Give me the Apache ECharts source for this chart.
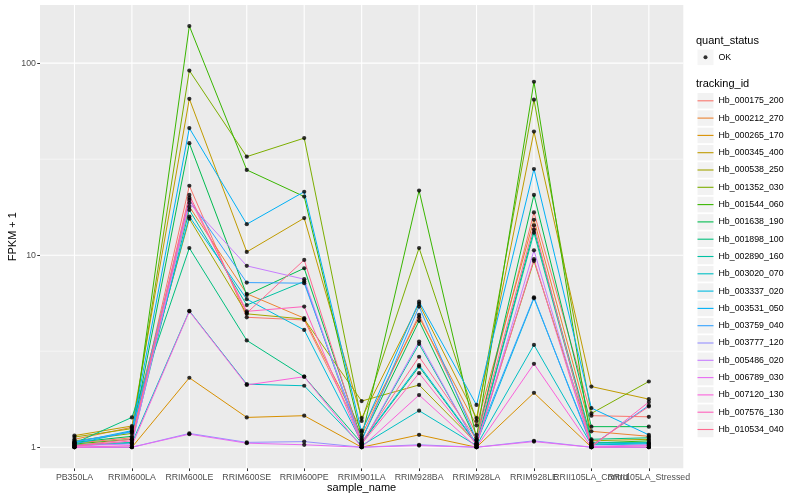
<!DOCTYPE html>
<html>
<head>
<meta charset="utf-8">
<script src="https://cdn.jsdelivr.net/npm/echarts@6/dist/echarts.min.js"></script>
<style>html,body{margin:0;padding:0;background:#fff;}#c{width:800px;height:500px;}</style>
</head>
<body>
<div id="c"></div>
<script>
const categories = ['PB350LA','RRIM600LA','RRIM600LE','RRIM600SE','RRIM600PE','RRIM901LA','RRIM928BA','RRIM928LA','RRIM928LE','RRII105LA_Control','RRII105LA_Stressed'];
const trackingIds = ['Hb_000175_200','Hb_000212_270','Hb_000265_170','Hb_000345_400','Hb_000538_250','Hb_001352_030','Hb_001544_060','Hb_001638_190','Hb_001898_100','Hb_002890_160','Hb_003020_070','Hb_003337_020','Hb_003531_050','Hb_003759_040','Hb_003777_120','Hb_005486_020','Hb_006789_030','Hb_007120_130','Hb_007576_130','Hb_010534_040'];
// FPKM + 1 per sample, in category order
const hb_000175_200 = [1.05, 1.12, 23.0, 4.75, 4.6, 1.15, 4.89, 1.16, 16.7, 1.46, 1.44];
const hb_000212_270 = [1.10, 1.27, 17.9, 6.3, 4.7, 1.22, 4.75, 1.30, 15.3, 1.21, 1.14];
const hb_000265_170 = [1.00, 1.00, 2.30, 1.43, 1.46, 1.00, 1.16, 1.00, 1.92, 1.00, 1.00];
const hb_000345_400 = [1.15, 1.29, 65.2, 10.4, 15.6, 1.42, 5.58, 1.42, 44.0, 2.07, 1.78];
const hb_000538_250 = [1.13, 1.25, 15.5, 4.95, 4.65, 1.74, 2.11, 1.05, 9.34, 1.08, 1.10];
const hb_001352_030 = [1.08, 1.18, 91.5, 32.6, 40.7, 1.37, 10.9, 1.37, 64.5, 1.50, 2.20];
const hb_001544_060 = [1.04, 1.10, 156, 27.8, 20.2, 1.12, 21.7, 1.12, 80.0, 1.05, 1.08];
const hb_001638_190 = [1.06, 1.14, 38.3, 6.2, 8.55, 1.10, 4.55, 1.08, 20.6, 1.28, 1.28];
const hb_001898_100 = [1.05, 1.43, 10.9, 3.6, 2.33, 1.05, 2.63, 1.04, 13.6, 1.10, 1.12];
const hb_002890_160 = [1.03, 1.06, 17.2, 5.5, 7.3, 1.03, 3.45, 1.03, 13.1, 1.06, 1.06];
const hb_003020_070 = [1.02, 1.05, 5.13, 2.13, 2.09, 1.02, 1.55, 1.02, 3.41, 1.03, 1.04];
const hb_003337_020 = [1.04, 1.21, 15.9, 5.9, 4.08, 1.06, 2.68, 1.05, 5.97, 1.04, 1.05];
const hb_003531_050 = [1.06, 1.22, 45.9, 14.5, 21.4, 1.20, 5.73, 1.66, 28.1, 1.60, 1.16];
const hb_003759_040 = [1.07, 1.20, 19.4, 7.2, 7.15, 1.08, 5.4, 1.09, 6.04, 1.02, 1.65];
const hb_003777_120 = [1.00, 1.00, 1.18, 1.06, 1.07, 1.00, 1.03, 1.00, 1.08, 1.00, 1.00];
const hb_005486_020 = [1.02, 1.04, 18.7, 8.8, 7.5, 1.03, 3.55, 1.02, 10.6, 1.01, 1.03];
const hb_006789_030 = [1.00, 1.00, 1.17, 1.05, 1.03, 1.00, 1.02, 1.00, 1.07, 1.00, 1.00];
const hb_007120_130 = [1.00, 1.02, 5.1, 2.11, 2.33, 1.00, 1.87, 1.00, 2.72, 1.00, 1.02];
const hb_007576_130 = [1.01, 1.08, 19.9, 5.1, 5.4, 1.04, 2.43, 1.03, 9.53, 1.00, 1.72];
const hb_010534_040 = [1.02, 1.10, 20.6, 5.0, 9.45, 1.06, 2.96, 1.10, 14.3, 1.02, 1.63];
const seriesValues = [hb_000175_200, hb_000212_270, hb_000265_170, hb_000345_400, hb_000538_250, hb_001352_030, hb_001544_060, hb_001638_190, hb_001898_100, hb_002890_160, hb_003020_070, hb_003337_020, hb_003531_050, hb_003759_040, hb_003777_120, hb_005486_020, hb_006789_030, hb_007120_130, hb_007576_130, hb_010534_040];
const yTickValues = [1, 10, 100];

const palette = ['#F8766D','#EA8331','#D89000','#C09B00','#A3A500','#7CAE00','#39B600','#00BB4E','#00BF7D','#00C1A3','#00BFC4','#00BAE0','#00B0F6','#35A2FF','#9590FF','#C77CFF','#E76BF3','#FA62DB','#FF62BC','#FF6C91'];
const FONT = 'Liberation Sans, Arial, Helvetica, sans-serif';

const allLog = [].concat(...seriesValues).map(v => Math.log10(v));
const lo = Math.min(...allLog), hi = Math.max(...allLog);
const span = hi - lo;
const yMin = lo - 0.05 * span, yMax = hi + 0.05 * span;
const xMin = -0.6, xMax = categories.length - 1 + 0.6;
const majorLog = yTickValues.map(v => Math.log10(v));
const minorLog = [];
for (let i = 1; i < majorLog.length; i++) minorLog.push((majorLog[i - 1] + majorLog[i]) / 2);
const catIdx = categories.map((c, i) => i);
// labels split over two stacked axes so that overlapping neighbours are both drawn
const oddLabelIdx = catIdx.filter(i => i === categories.length - 2);
const mainLabelIdx = catIdx.filter(i => oddLabelIdx.indexOf(i) < 0);

// panel grid lines (white), drawn beneath the data
const series = [];
function gridLine(points, width) {
  series.push({
    type: 'line', data: points, showSymbol: false, symbol: 'none', silent: true, z: 1,
    lineStyle: { color: '#FFFFFF', width: width }, itemStyle: { color: '#FFFFFF' },
    emphasis: { disabled: true }, tooltip: { show: false }
  });
}
minorLog.forEach(v => gridLine([[xMin, v], [xMax, v]], 0.55));
majorLog.forEach(v => gridLine([[xMin, v], [xMax, v]], 1.1));
catIdx.forEach(i => gridLine([[i, yMin], [i, yMax]], 1.1));

seriesValues.forEach((vals, s) => series.push({
  name: trackingIds[s],
  type: 'line',
  data: vals.map((v, i) => [i, Math.log10(v)]),
  showSymbol: false,
  symbol: 'none',
  lineStyle: { width: 1, color: palette[s] },
  itemStyle: { color: palette[s] },
  color: palette[s],
  z: 3,
  silent: true
}));
series.push({
  name: 'OK',
  type: 'scatter',
  data: [].concat(...seriesValues.map(vals => vals.map((v, i) => [i, Math.log10(v)]))),
  symbol: 'circle',
  symbolSize: 4.2,
  itemStyle: { color: '#000' },
  z: 5,
  silent: true
});

const legendText = { fontSize: 8.8, color: '#000', fontFamily: FONT, lineHeight: 17.3 };
const clearText = Object.assign({}, legendText, { color: 'rgba(0,0,0,0)' });
const xLabelStyle = { fontSize: 8.8, color: '#4D4D4D', fontFamily: FONT, hideOverlap: false, showMinLabel: true, showMaxLabel: true, margin: 5, formatter: v => categories[Math.round(v)] };

const option = {
  animation: false,
  backgroundColor: '#FFFFFF',
  grid: { left: 40, right: 116.7, top: 5, bottom: 31.7, containLabel: false, outerBoundsMode: 'none', show: true, backgroundColor: '#EBEBEB', borderWidth: 0 },
  title: [
    { text: 'quant_status', left: 696, top: 34.2, padding: 0, textStyle: { fontSize: 11, fontWeight: 'normal', color: '#000', fontFamily: FONT, lineHeight: 13 } },
    { text: 'tracking_id', left: 696, top: 77.5, padding: 0, textStyle: { fontSize: 11, fontWeight: 'normal', color: '#000', fontFamily: FONT, lineHeight: 13 } }
  ],
  legend: [
    { data: ['OK'], orient: 'vertical', left: 697.5, top: 48.65, padding: 0, itemGap: 0, itemWidth: 16, itemHeight: 15.5, icon: 'rect', selectedMode: false, itemStyle: { color: '#F2F2F2', borderWidth: 0 }, textStyle: legendText },
    { data: ['OK'], orient: 'vertical', left: 697.5 + 6, top: 48.65, padding: 0, itemGap: 0, itemWidth: 4, itemHeight: 4, icon: 'circle', selectedMode: false, itemStyle: { color: '#000', borderWidth: 0 }, textStyle: clearText },
    { data: trackingIds, orient: 'vertical', left: 697.5, top: 92.15, padding: 0, itemGap: 0, itemWidth: 16, itemHeight: 15.5, icon: 'rect', selectedMode: false, itemStyle: { color: '#F2F2F2', borderWidth: 0 }, textStyle: legendText },
    { data: trackingIds, orient: 'vertical', left: 697.5, top: 92.15, padding: 0, itemGap: 0, itemWidth: 16, itemHeight: 1.1, icon: 'path://M0,0H16V1.1H0Z', selectedMode: false, itemStyle: { borderWidth: 0 }, textStyle: clearText }
  ],
  xAxis: [{
    type: 'value',
    min: xMin,
    max: xMax,
    position: 'bottom',
    name: 'sample_name',
    nameLocation: 'middle',
    nameGap: 14,
    nameMoveOverlap: false,
    nameTextStyle: { fontSize: 11, color: '#000', fontFamily: FONT },
    axisLine: { show: false, onZero: false },
    axisTick: { show: true, length: 2.75, customValues: catIdx, lineStyle: { color: '#333333', width: 1 } },
    axisLabel: Object.assign({ show: true, customValues: mainLabelIdx }, xLabelStyle),
    splitLine: { show: false }
  }, {
    type: 'value',
    min: xMin,
    max: xMax,
    position: 'bottom',
    offset: 0,
    axisLine: { show: false, onZero: false },
    axisTick: { show: false },
    axisLabel: Object.assign({ show: true, customValues: oddLabelIdx }, xLabelStyle),
    splitLine: { show: false }
  }],
  yAxis: {
    type: 'value',
    min: yMin,
    max: yMax,
    name: 'FPKM + 1',
    nameLocation: 'middle',
    nameGap: 22,
    nameMoveOverlap: false,
    nameTextStyle: { fontSize: 11, color: '#000', fontFamily: FONT },
    axisLine: { show: false, onZero: false },
    axisTick: { show: true, length: 2.75, customValues: majorLog, lineStyle: { color: '#333333', width: 1 } },
    axisLabel: { show: true, margin: 4, customValues: majorLog, formatter: v => String(Math.round(Math.pow(10, v))), fontSize: 8.8, color: '#4D4D4D', fontFamily: FONT, showMinLabel: true, showMaxLabel: true },
    splitLine: { show: false }
  },
  series: series
};

const chart = echarts.init(document.getElementById('c'), null, { renderer: 'canvas' });
chart.setOption(option);
</script>
</body>
</html>
